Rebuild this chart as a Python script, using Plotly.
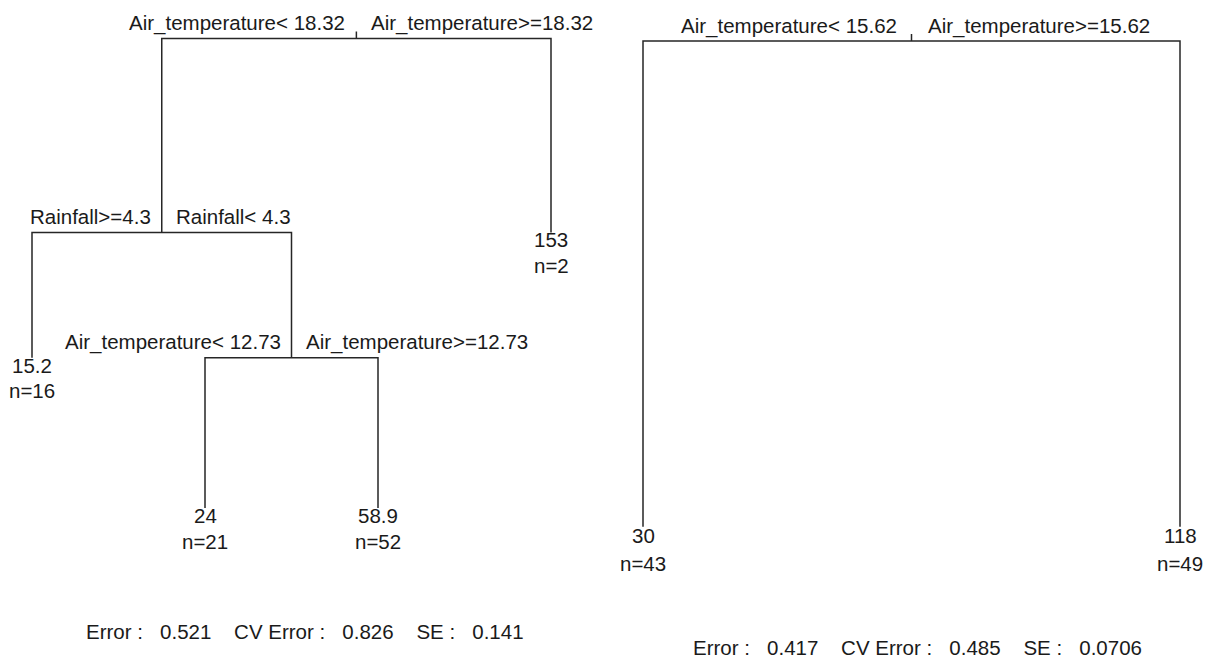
import plotly.graph_objects as go

# ---------------- data: left regression tree ----------------
t1_split_node = [1, 2, 5]                     # rpart node ids of the splits
t1_split_height = [1.0, 0.587, 0.320]         # relative (deviance-based) heights
t1_split_left = ["Air_temperature< 18.32", "Rainfall>=4.3", "Air_temperature< 12.73"]
t1_split_right = ["Air_temperature>=18.32", "Rainfall< 4.3", "Air_temperature>=12.73"]
t1_leaf_node = [4, 10, 11, 3]                 # leaves, left to right
t1_leaf_height = [0.320, 0.0, 0.0, 0.587]
t1_leaf_value = [15.2, 24, 58.9, 153]
t1_leaf_n = [16, 21, 52, 2]
t1_stats = [0.521, 0.826, 0.141]              # Error, CV Error, SE

# ---------------- data: right regression tree ----------------
t2_split_node = [1]
t2_split_height = [1.0]
t2_split_left = ["Air_temperature< 15.62"]
t2_split_right = ["Air_temperature>=15.62"]
t2_leaf_node = [2, 3]
t2_leaf_height = [0.0, 0.0]
t2_leaf_value = [30, 118]
t2_leaf_n = [43, 49]
t2_stats = [0.417, 0.485, 0.0706]

# ---------------- styling / layout constants ----------------
W, H = 1213, 664
FONT = dict(family="Liberation Sans, Arial, Helvetica, sans-serif", size=20.5, color="#1a1a1a")
LINE = dict(color="#262626", width=1.5)

panels = [
    dict(split_node=t1_split_node, split_height=t1_split_height,
         split_left=t1_split_left, split_right=t1_split_right,
         leaf_node=t1_leaf_node, leaf_height=t1_leaf_height,
         leaf_value=t1_leaf_value, leaf_n=t1_leaf_n, stats=t1_stats,
         xa="x", ya="y", leaf1_px=32, px_per_leaf=173, top_px=38.5, bottom_px=508,
         gap_l=9, gap_r=12.5, lab_up=15.5, val_dn=7.5, n_dn=33, tick_px=7,
         stats_px=(305, 631)),
    dict(split_node=t2_split_node, split_height=t2_split_height,
         split_left=t2_split_left, split_right=t2_split_right,
         leaf_node=t2_leaf_node, leaf_height=t2_leaf_height,
         leaf_value=t2_leaf_value, leaf_n=t2_leaf_n, stats=t2_stats,
         xa="x2", ya="y2", leaf1_px=643, px_per_leaf=537, top_px=41, bottom_px=526.7,
         gap_l=13, gap_r=14, lab_up=15, val_dn=9, n_dn=36.5, tick_px=7,
         stats_px=(917, 647)),
]


def layout_tree(split_node, split_height, leaf_node, leaf_height):
    x, y = {}, {}
    for i, nd in enumerate(leaf_node):
        x[nd] = i + 1
        y[nd] = leaf_height[i]
    for nd, h in zip(split_node, split_height):
        y[nd] = h
    for nd in sorted(split_node, reverse=True):
        x[nd] = (x[2 * nd] + x[2 * nd + 1]) / 2.0
    return x, y


fig = go.Figure()
annotations = []
NB = "\u00a0"
S3 = NB * 3
S4 = NB * 4

for p in panels:
    x, y = layout_tree(p["split_node"], p["split_height"], p["leaf_node"], p["leaf_height"])
    ppy = p["bottom_px"] - p["top_px"]  # pixels per unit height
    xs, ys = [], []
    for nd in p["split_node"]:
        l, r = 2 * nd, 2 * nd + 1
        xs += [x[l], x[l], x[r], x[r], None]
        ys += [y[l], y[nd], y[nd], y[r], None]
    root = min(p["split_node"])
    xs += [x[root], x[root], None]
    ys += [y[root], y[root] + p["tick_px"] / ppy, None]
    fig.add_trace(go.Scatter(x=xs, y=ys, mode="lines", line=LINE, hoverinfo="skip",
                             showlegend=False, xaxis=p["xa"], yaxis=p["ya"]))

    for nd, lt, rt in zip(p["split_node"], p["split_left"], p["split_right"]):
        annotations.append(dict(x=x[nd], y=y[nd], xref=p["xa"], yref=p["ya"], text=lt,
                                xanchor="right", yanchor="middle", xshift=-p["gap_l"],
                                yshift=p["lab_up"], showarrow=False, font=FONT))
        annotations.append(dict(x=x[nd], y=y[nd], xref=p["xa"], yref=p["ya"], text=rt,
                                xanchor="left", yanchor="middle", xshift=p["gap_r"],
                                yshift=p["lab_up"], showarrow=False, font=FONT))

    for nd, v, n in zip(p["leaf_node"], p["leaf_value"], p["leaf_n"]):
        annotations.append(dict(x=x[nd], y=y[nd], xref=p["xa"], yref=p["ya"], text=f"{v:.3g}",
                                xanchor="center", yanchor="middle", yshift=-p["val_dn"],
                                showarrow=False, font=FONT))
        annotations.append(dict(x=x[nd], y=y[nd], xref=p["xa"], yref=p["ya"], text=f"n={n}",
                                xanchor="center", yanchor="middle", yshift=-p["n_dn"],
                                showarrow=False, font=FONT))

    e, cv, se = p["stats"]
    stats_text = (f"Error :{S3}{e:.3g}{S4}CV Error :{S3}{cv:.3g}"
                  f"{S4}SE :{S3}{se:.3g}")
    sx, sy = p["stats_px"]
    annotations.append(dict(x=sx / W, y=1 - sy / H, xref="paper", yref="paper", text=stats_text,
                            xanchor="center", yanchor="middle", showarrow=False, font=FONT))

    # axis ranges so that the tree lands where it does in the reference
    xr = [1 - p["leaf1_px"] / p["px_per_leaf"], 1 + (W - p["leaf1_px"]) / p["px_per_leaf"]]
    yr = [-(H - p["bottom_px"]) / ppy, 1 + p["top_px"] / ppy]
    p["xr"], p["yr"] = xr, yr

ax_common = dict(visible=False, showgrid=False, zeroline=False, fixedrange=True)
fig.update_layout(
    width=W, height=H, autosize=False,
    margin=dict(l=0, r=0, t=0, b=0, pad=0),
    paper_bgcolor="white", plot_bgcolor="white",
    xaxis=dict(domain=[0, 1], range=panels[0]["xr"], anchor="y", **ax_common),
    yaxis=dict(domain=[0, 1], range=panels[0]["yr"], anchor="x", **ax_common),
    xaxis2=dict(domain=[0, 1], range=panels[1]["xr"], anchor="y2", overlaying="x", **ax_common),
    yaxis2=dict(domain=[0, 1], range=panels[1]["yr"], anchor="x2", overlaying="y", **ax_common),
    annotations=annotations,
    showlegend=False,
)

fig.write_html("out.html", config={"displayModeBar": False})
